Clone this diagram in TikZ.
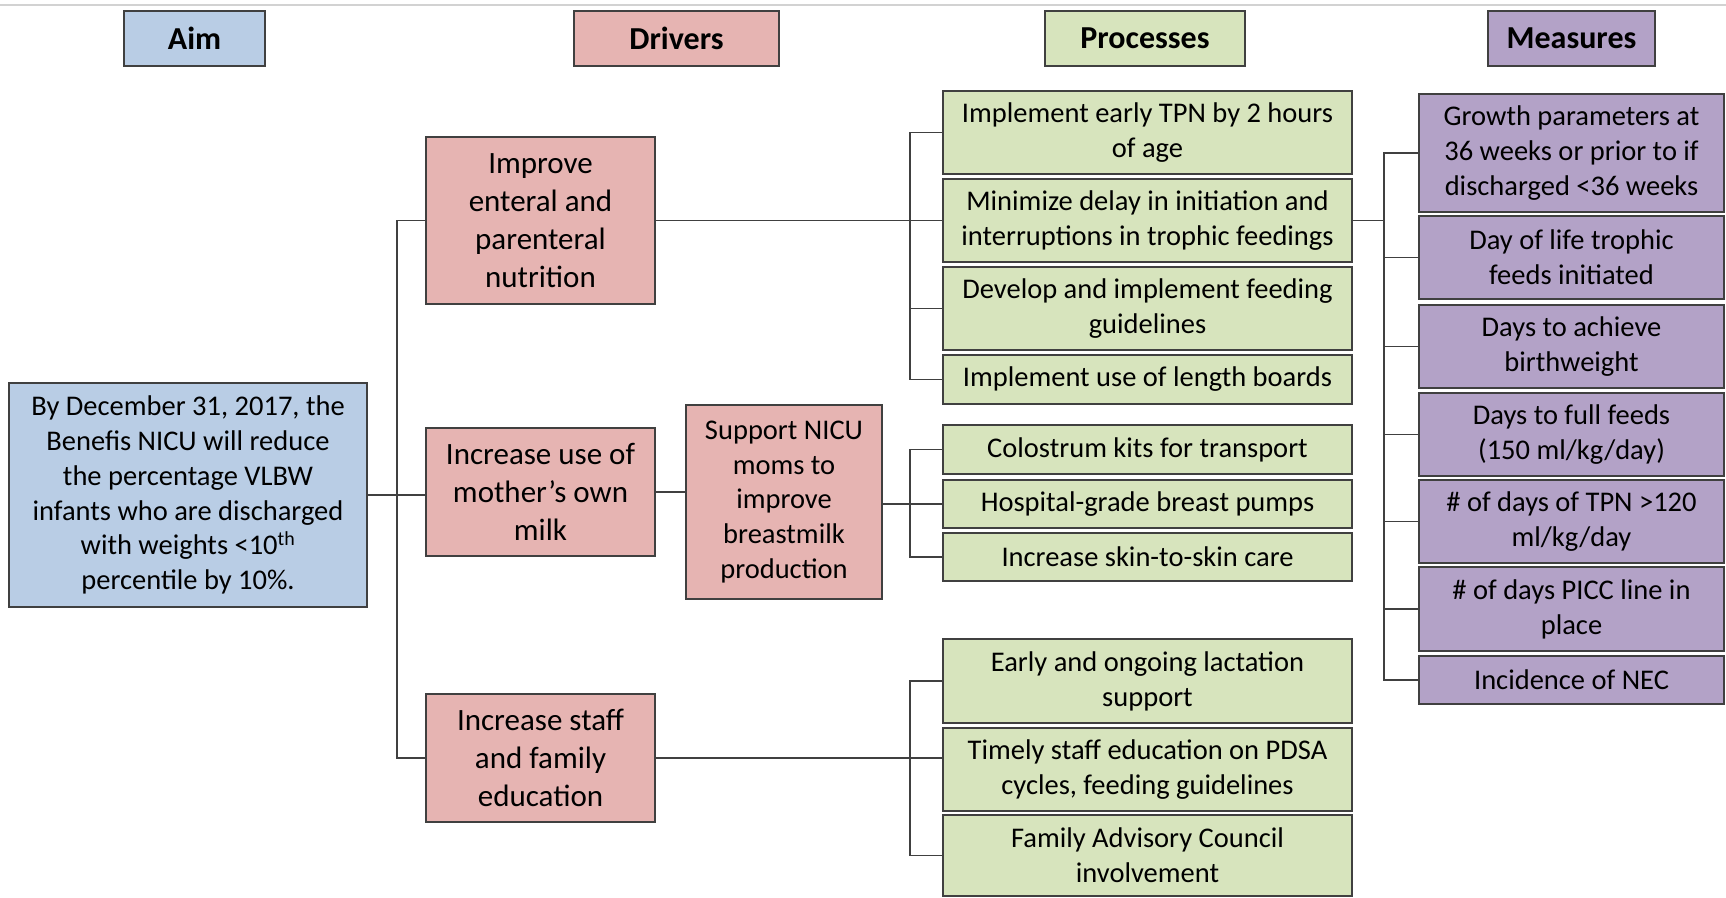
\documentclass[tikz,border=0pt]{standalone}
\usepackage{fontspec}
\setmainfont{Carlito}
\usetikzlibrary{calc}
\definecolor{aimblue}{HTML}{B9CDE5}
\definecolor{drvpink}{HTML}{E6B4B2}
\definecolor{procgreen}{HTML}{D7E4BD}
\definecolor{measpurple}{HTML}{B3A2C7}
\definecolor{edgegray}{HTML}{404040}
\begin{document}
\begin{tikzpicture}[x=1pt,y=-1pt,
  box/.style={draw=edgegray, line width=1.5pt, rectangle, inner sep=0pt, align=center, font=\fontsize{28.5}{34.8}\selectfont},
  hdr/.style={box, font=\bfseries\fontsize{32}{38}\selectfont, minimum height=55pt},
  aimbox/.style={box, fill=aimblue},
  drv/.style={box, fill=drvpink, minimum width=229pt, font=\fontsize{31}{37.8}\selectfont},
  proc/.style={box, fill=procgreen, minimum width=409pt},
  meas/.style={box, fill=measpurple, minimum width=305pt},
  conn/.style={draw=edgegray, line width=1.5pt}]
\useasboundingbox (0,0) rectangle (1726,897);
\draw[gray!35, line width=2pt] (0,5) -- (1726,5);

% headers
\node[hdr, fill=aimblue, minimum width=141pt] (aimH) at (194.5,38.5) {Aim};
\node[hdr, fill=drvpink, minimum width=205pt] (drvH) at (676.5,38.5) {Drivers};
\node[hdr, fill=procgreen, minimum width=200pt] (procH) at (1145,38.5) {Processes};
\node[hdr, fill=measpurple, minimum width=167pt] (measH) at (1571.5,38.5) {Measures};

% aim
\node[aimbox, minimum width=358pt, minimum height=224pt] (aim) at (188,495) {By December 31, 2017, the\\Benefis NICU will reduce\\the percentage VLBW\\infants who are discharged\\with weights <10\textsuperscript{th}\\percentile by 10\%.};

% drivers
\node[drv, minimum height=167pt] (improve) at (540.5,220.5) {Improve\\enteral and\\parenteral\\nutrition};
\node[drv, minimum height=128pt] (use) at (540.5,492) {Increase use of\\mother’s own\\milk};
\node[drv, minimum height=128pt] (staff) at (540.5,758) {Increase staff\\and family\\education};
\node[box, fill=drvpink, minimum width=196pt, minimum height=194pt] (support) at (784,502) {Support NICU\\moms to\\improve\\breastmilk\\production};

% processes
\node[proc, minimum height=83pt] (tpn) at (1147.5,132.5) {Implement early TPN by 2 hours\\of age};
\node[proc, minimum height=83pt] (minim) at (1147.5,220.5) {Minimize delay in initiation and\\interruptions in trophic feedings};
\node[proc, minimum height=83pt] (develop) at (1147.5,308.5) {Develop and implement feeding\\guidelines};
\node[proc, minimum height=49pt] (length) at (1147.5,379.5) {Implement use of length boards};
\node[proc, minimum height=49pt] (colos) at (1147.5,449.5) {Colostrum kits for transport};
\node[proc, minimum height=48pt] (hosp) at (1147.5,504) {Hospital-grade breast pumps};
\node[proc, minimum height=48pt] (skin) at (1147.5,557) {Increase skin-to-skin care};
\node[proc, minimum height=84pt] (early) at (1147.5,681) {Early and ongoing lactation\\support};
\node[proc, minimum height=83pt] (timely) at (1147.5,769.5) {Timely staff education on PDSA\\cycles, feeding guidelines};
\node[proc, minimum height=81pt] (family) at (1147.5,855.5) {Family Advisory Council\\involvement};

% measures
\node[meas, minimum height=118pt] (growth) at (1571.5,153) {Growth parameters at\\36 weeks or prior to if\\discharged <36 weeks};
\node[meas, minimum height=83pt] (daylife) at (1571.5,257.5) {Day of life trophic\\feeds initiated};
\node[meas, minimum height=83pt] (achieve) at (1571.5,346.5) {Days to achieve\\birthweight};
\node[meas, minimum height=83pt] (full) at (1571.5,434.5) {Days to full feeds\\(150 ml/kg/day)};
\node[meas, minimum height=83pt] (tpnm) at (1571.5,521.5) {\# of days of TPN >120\\ml/kg/day};
\node[meas, minimum height=84pt] (picc) at (1571.5,609) {\# of days PICC line in\\place};
\node[meas, minimum height=48pt] (nec) at (1571.5,680) {Incidence of NEC};

% connectors
\coordinate (bA) at (397,495);
\coordinate (bP1) at (910,220);
\coordinate (bP2) at (910,500);
\coordinate (bP3) at (910,760);
\coordinate (bM) at (1384,400);

\draw[conn] (aim.east) -- (aim.east -| use.west);
\draw[conn] (improve.west) -| (bA) |- (staff.west);
\draw[conn] (improve.east) -- (improve.east -| minim.west);
\draw[conn] (tpn.west) -| (bP1) |- (length.west);
\draw[conn] (develop.west) -- (develop.west -| bP1);
\draw[conn] (use.east) -- (use.east -| support.west);
\draw[conn] (support.east |- hosp.west) -- (hosp.west);
\draw[conn] (colos.west) -| (bP2) |- (skin.west);
\draw[conn] (staff.east) -- (staff.east -| timely.west);
\draw[conn] (early.west) -| (bP3) |- (family.west);
\draw[conn] (minim.east) -- (minim.east -| bM);
\draw[conn] (growth.west) -| (bM) |- (nec.west);
\foreach \m in {daylife,achieve,full,tpnm,picc}
  \draw[conn] (\m.west) -- (\m.west -| bM);
\end{tikzpicture}
\end{document}
